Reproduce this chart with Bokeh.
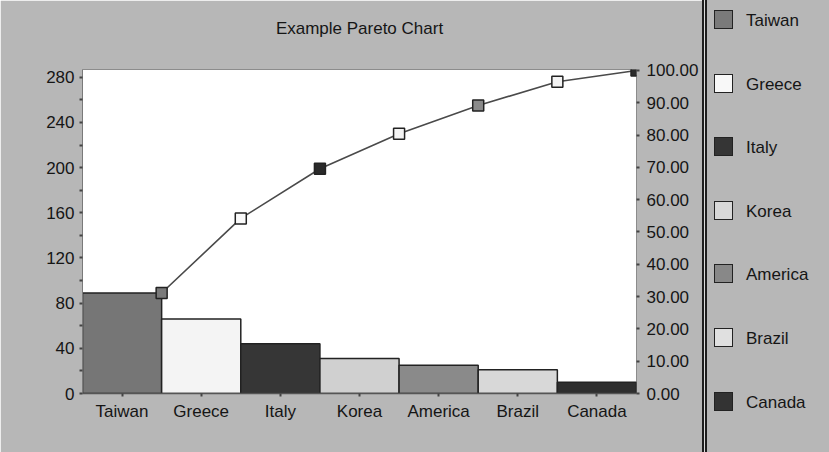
import numpy as np
from bokeh.plotting import figure
from bokeh.models import Range1d, LinearAxis, FixedTicker, PrintfTickFormatter, ColumnDataSource, Div
from bokeh.layouts import row
from bokeh.embed import file_html
from bokeh.resources import INLINE

# ---------------- data ----------------
title_text = "Example Pareto Chart"
countries = ["Taiwan", "Greece", "Italy", "Korea", "America", "Brazil", "Canada"]
counts = [89, 66, 44, 31, 25, 21, 10]
bar_colors = ["#767676", "#f4f4f4", "#363636", "#d0d0d0", "#8a8a8a", "#d8d8d8", "#2e2e2e"]
marker_colors = ["#7a7a7a", "#fafafa", "#2a2a2a", "#f4f4f4", "#8a8a8a", "#f4f4f4", "#2a2a2a"]
legend_colors = ["#7a7a7a", "#f8f8f8", "#353535", "#d8d8d8", "#888888", "#e0e0e0", "#333333"]
left_ticks = [0, 40, 80, 120, 160, 200, 240, 280]
left_minor = [20, 60, 100, 140, 180, 220, 260]
right_ticks = [0, 10, 20, 30, 40, 50, 60, 70, 80, 90, 100]

# ---------------- derived ----------------
n = len(countries)
idx = np.arange(n)
total = float(sum(counts))
cum_pct = np.cumsum(counts) / total * 100.0

BG = "#b7b7b7"
FONT = "Liberation Sans"
TXT = "#151515"
PAD = 1.003

bars = ColumnDataSource(dict(x=idx + 0.5, top=counts, color=bar_colors, name=countries))
cum = ColumnDataSource(dict(x=idx + 1.0, y=cum_pct, color=marker_colors))

p = figure(width=702, height=452, output_backend="svg", toolbar_location=None,
           x_range=Range1d(0, n), y_range=Range1d(0, total * PAD),
           min_border_left=82, min_border_right=66, min_border_top=69, min_border_bottom=59,
           background_fill_color="white", border_fill_color=BG,
           outline_line_color="#8c8c8c", outline_line_width=1)
p.extra_y_ranges = {"pct": Range1d(0, 100 * PAD)}
p.grid.visible = False

# chart title: carried by an otherwise empty top axis so it can sit well above the plot area
top_axis = LinearAxis(ticker=FixedTicker(ticks=[]), axis_line_color=None,
                      major_tick_in=0, major_tick_out=0, major_tick_line_color=None,
                      minor_tick_line_color=None,
                      axis_label=title_text, axis_label_standoff=32,
                      axis_label_text_font=FONT, axis_label_text_font_size="17px",
                      axis_label_text_font_style="normal", axis_label_text_color=TXT)
p.add_layout(top_axis, "above")

p.vbar(x="x", top="top", width=1, bottom=0, source=bars,
       fill_color="color", line_color="#222222", line_width=1.5)
p.line(x="x", y="y", source=cum, y_range_name="pct", line_color="#4a4a4a", line_width=1.6)
p.scatter(x="x", y="y", source=cum, y_range_name="pct", marker="square", size=11,
          fill_color="color", line_color="#222222", line_width=1.5)

# bottom axis
xa = p.below[0]
xa.ticker = FixedTicker(ticks=list(idx + 0.5))
xa.major_label_overrides = {float(i + 0.5): c for i, c in enumerate(countries)}

# left axis
ya = p.left[0]
ya.ticker = FixedTicker(ticks=left_ticks, minor_ticks=left_minor)

# right axis
ra = LinearAxis(y_range_name="pct", ticker=FixedTicker(ticks=right_ticks),
                formatter=PrintfTickFormatter(format="%.2f"))
p.add_layout(ra, "right")

for ax in [xa, ya, ra]:
    ax.major_label_text_font = FONT
    ax.major_label_text_font_size = "17px"
    ax.major_label_text_color = TXT
    ax.axis_line_color = "#7a7a7a"
    ax.axis_line_width = 1
    ax.major_tick_line_color = "#444444"
    ax.major_tick_line_width = 2
    ax.major_tick_in = 0
    ax.major_tick_out = 3
    ax.minor_tick_line_color = "#444444"
    ax.minor_tick_line_width = 2
    ax.minor_tick_in = 0
    ax.minor_tick_out = 3
    ax.major_label_standoff = 5
xa.axis_line_color = "#555555"
xa.axis_line_width = 1.5
ra.axis_line_color = None
ra.major_label_standoff = 7

# ---------------- legend panel (separate box right of the double rule) ----------------
PANEL_W, PANEL_H = 127, 452
FIRST_C, STEP, SW = 21, 63.6, 22
parts = [
    f'<div style="position:relative;width:{PANEL_W}px;height:{PANEL_H}px;background:{BG};'
    f'font-family:\'{FONT}\',sans-serif;font-size:17px;color:{TXT};overflow:hidden;margin:0;padding:0;">',
    f'<div style="position:absolute;left:0;top:0;width:2px;height:{PANEL_H}px;background:#1e1e1e;"></div>',
    f'<div style="position:absolute;left:2px;top:0;width:1px;height:{PANEL_H}px;background:#dcdcdc;"></div>',
    f'<div style="position:absolute;left:3px;top:0;width:2px;height:{PANEL_H}px;background:#1e1e1e;"></div>',
]
for i, (c, col) in enumerate(zip(countries, legend_colors)):
    cy = FIRST_C + STEP * i
    parts.append(
        f'<div style="position:absolute;left:12px;top:{cy - SW / 2:.1f}px;width:{SW - 3}px;height:{SW - 3}px;'
        f'background:{col};border:1.5px solid #222;"></div>')
    parts.append(
        f'<div style="position:absolute;left:44px;top:{cy - 12:.1f}px;height:24px;line-height:24px;'
        f'white-space:nowrap;">{c}</div>')
parts.append('</div>')
legend_div = Div(text="".join(parts), width=PANEL_W, height=PANEL_H,
                 styles={"background-color": BG, "margin": "0", "padding": "0"})

layout = row(p, legend_div, spacing=0)
open("out.html", "w").write(file_html(layout, INLINE))
